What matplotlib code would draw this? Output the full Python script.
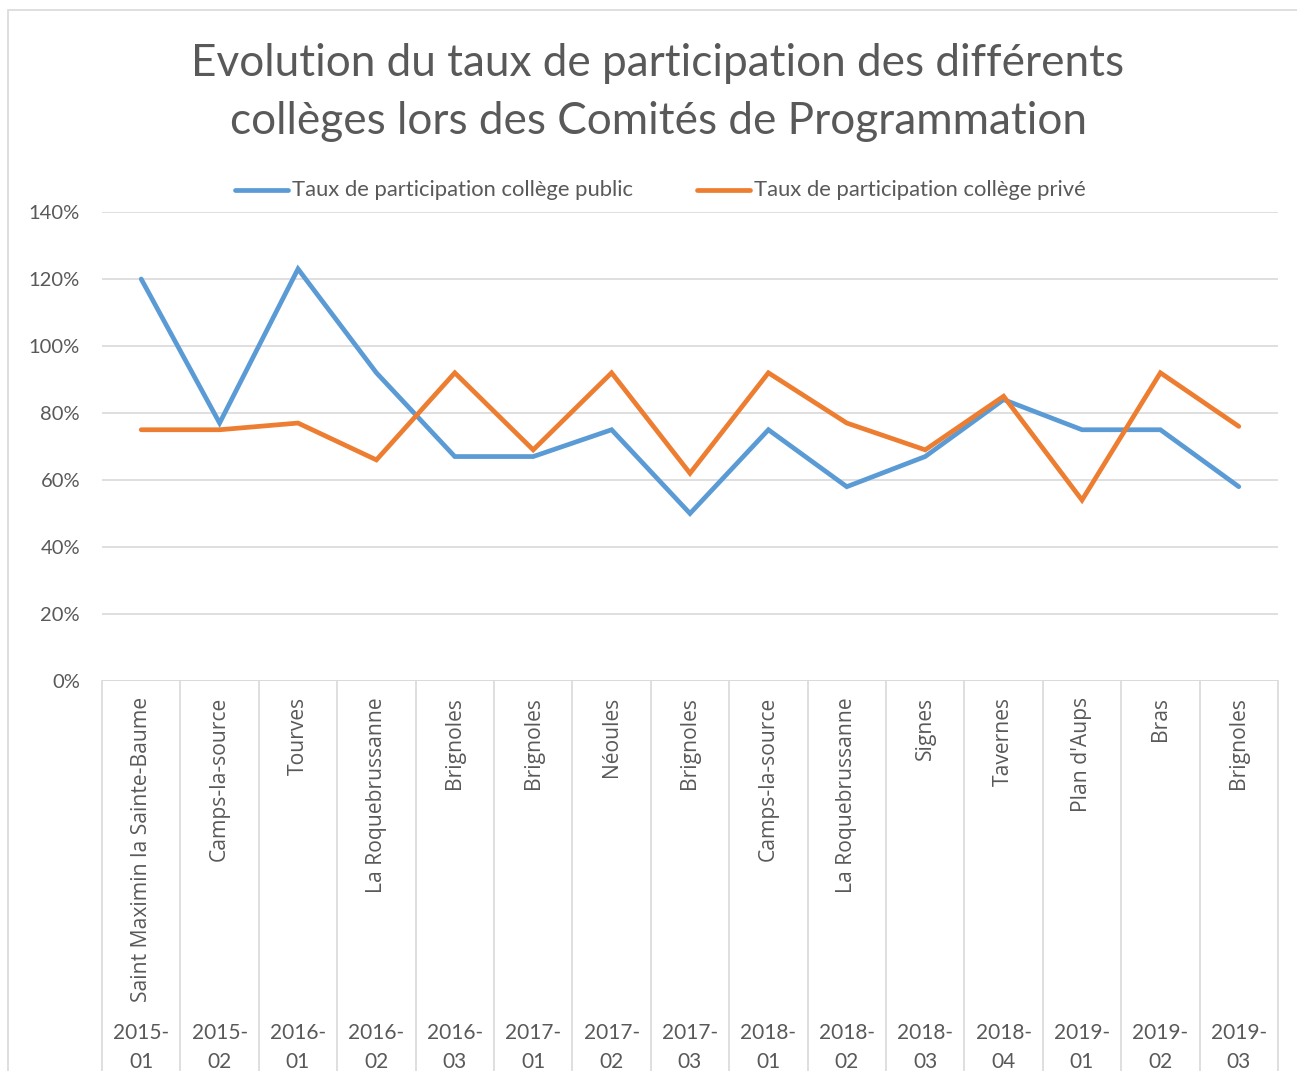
"""
Evolution du taux de participation des collèges lors des Comités de Programmation.
Line chart with a two-level category axis (commune / session), Excel-like styling.
"""

import matplotlib.pyplot as plt
from matplotlib.patches import Rectangle

# --- data -------------------------------------------------------------------
communes = [
    "Saint Maximin la Sainte-Baume", "Camps-la-source", "Tourves",
    "La Roquebrussanne", "Brignoles", "Brignoles", "Néoules", "Brignoles",
    "Camps-la-source", "La Roquebrussanne", "Signes", "Tavernes",
    "Plan d'Aups", "Bras", "Brignoles",
]
sessions = [
    "2015-01", "2015-02", "2016-01", "2016-02", "2016-03", "2017-01",
    "2017-02", "2017-03", "2018-01", "2018-02", "2018-03", "2018-04",
    "2019-01", "2019-02", "2019-03",
]
taux_public = [120, 77, 123, 92, 67, 67, 75, 50, 75, 58, 67, 84, 75, 75, 58]
taux_prive = [75, 75, 77, 66, 92, 69, 92, 62, 92, 77, 69, 85, 54, 92, 76]

label_public = "Taux de participation collège public"
label_prive = "Taux de participation collège privé"

# --- style --------------------------------------------------------------------
W, H = 1297, 1071
TEXT = "#595959"
GRID = "#d9d9d9"
BLUE = "#5B9BD5"
ORANGE = "#ED7D31"
TITLE_FONT = ["Lato", "DejaVu Sans"]
BODY_FONT = ["Open Sans", "DejaVu Sans"]
LW = 3.4

fig = plt.figure(figsize=(W / 100, H / 100), dpi=100)
fig.patch.set_facecolor("white")

# chart frame (extends beyond the crop on the right / bottom)
fig.patches.append(
    Rectangle((8 / W, -0.05), (W - 8 + 20) / W, (H - 10) / H + 0.05,
              transform=fig.transFigure, fill=False, edgecolor=GRID, lw=1.2)
)

left, right, top, bottom = 102, 1278, 212, 681
ax = fig.add_axes([left / W, 1 - bottom / H, (right - left) / W, (bottom - top) / H])

x = list(range(len(sessions)))
ax.plot(x, taux_public, color=BLUE, lw=LW, solid_capstyle="round",
        solid_joinstyle="miter", zorder=3, label=label_public)
ax.plot(x, taux_prive, color=ORANGE, lw=LW, solid_capstyle="round",
        solid_joinstyle="miter", zorder=3, label=label_prive)

ax.set_xlim(-0.5, len(sessions) - 0.5)
ax.set_ylim(0, 140)
ax.set_yticks(range(0, 141, 20))
ax.set_yticklabels([f"{v}%" for v in range(0, 141, 20)], fontfamily=TITLE_FONT,
                   fontsize=14.5, color=TEXT)
ax.tick_params(axis="y", length=0, pad=15.8)
ax.set_xticks([])
ax.grid(axis="y", color=GRID, lw=1.2)
ax.set_axisbelow(True)
for s in ax.spines.values():
    s.set_visible(False)

# two-level category axis
trans = ax.get_xaxis_transform()
px = 1.0 / (bottom - top)
depth = (H - bottom + 10) * px
ax.axhline(0, color=GRID, lw=1.2, zorder=2)
for b in range(len(sessions) + 1):
    ax.plot([b - 0.5, b - 0.5], [0, -depth], transform=trans, color=GRID,
            lw=1.2, clip_on=False)
for i, (c, s) in enumerate(zip(communes, sessions)):
    ax.text(i, -16 * px, c, transform=trans, rotation=90, ha="center", va="top",
            fontfamily=BODY_FONT, fontsize=15.2, color=TEXT)
    yr, num = s.split("-")
    ax.text(i, -(1033 - bottom) * px, yr + "-", transform=trans, ha="center",
            va="center", fontfamily=TITLE_FONT, fontsize=15, color=TEXT)
    ax.text(i, -(1062 - bottom) * px, num, transform=trans, ha="center",
            va="center", fontfamily=TITLE_FONT, fontsize=15, color=TEXT)

# title
fig.text(658 / W, 1 - 63 / H, "Evolution du taux de participation des différents",
         ha="center", va="center", fontfamily=TITLE_FONT, fontsize=31.8, color=TEXT)
fig.text(658 / W, 1 - 121 / H, "collèges lors des Comités de Programmation",
         ha="center", va="center", fontfamily=TITLE_FONT, fontsize=31.8, color=TEXT)

# legend drawn by hand to place it like the original
for (x0, x1, col, lab) in [(235, 288, BLUE, label_public),
                           (697, 750, ORANGE, label_prive)]:
    fig.add_artist(plt.Line2D([x0 / W, x1 / W], [1 - 190 / H, 1 - 190 / H],
                              color=col, lw=LW, solid_capstyle="round"))
    fig.text((x1 + 4) / W, 1 - 190 / H, lab, ha="left", va="center",
             fontfamily=TITLE_FONT, fontsize=15.8, color=TEXT)

fig.savefig("out.png", dpi=100)
